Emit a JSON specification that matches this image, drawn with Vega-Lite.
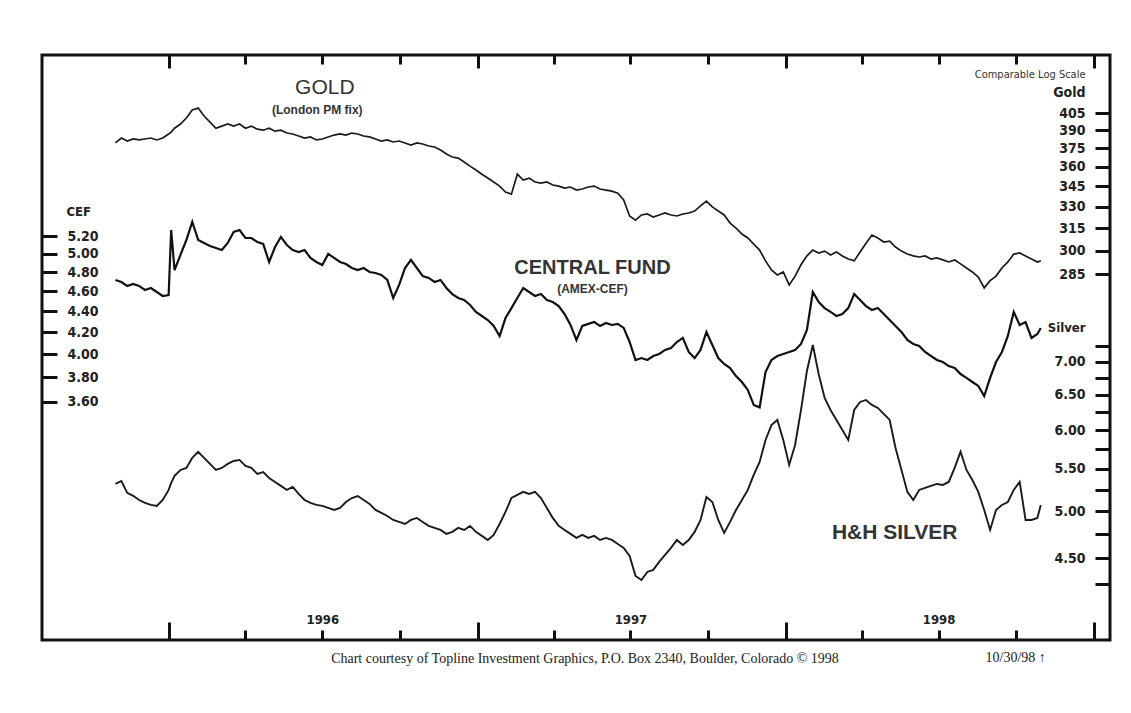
{
  "$schema": "https://vega.github.io/schema/vega-lite/v6.json",
  "width": 1068,
  "height": 585,
  "autosize": {"type": "none"},
  "padding": {"left": 42, "top": 55, "right": 21, "bottom": 73},
  "background": "#ffffff",
  "config": {
    "view": {"stroke": "#111111", "strokeWidth": 3},
    "axis": {"domain": false, "grid": false, "tickColor": "#111111", "tickWidth": 3, "labelColor": "#222222", "labelFont": "Liberation Sans Narrow, Arial Narrow, DejaVu Sans Condensed, sans-serif", "labelFontWeight": "bold", "labelFontSize": 14, "labelOverlap": false, "labelFlush": false}
  },
  "title": {"text": "Chart courtesy of Topline Investment Graphics, P.O. Box 2340, Boulder, Colorado © 1998", "orient": "bottom", "anchor": "middle", "dx": 9, "offset": -13, "font": "Liberation Serif", "fontSize": 14, "fontWeight": "normal", "color": "#222222"},
  "datasets": {
    "prices": [
      {"date": "1995-10-30", "gold": 379.4, "cef": 4.717, "silver": 5.318},
      {"date": "1995-11-06", "gold": 383.5, "cef": 4.696, "silver": 5.354},
      {"date": "1995-11-13", "gold": 381.0, "cef": 4.655, "silver": 5.213},
      {"date": "1995-11-20", "gold": 382.7, "cef": 4.675, "silver": 5.178},
      {"date": "1995-11-27", "gold": 381.9, "cef": 4.655, "silver": 5.130},
      {"date": "1995-12-04", "gold": 382.7, "cef": 4.613, "silver": 5.096},
      {"date": "1995-12-11", "gold": 383.5, "cef": 4.634, "silver": 5.073},
      {"date": "1995-12-18", "gold": 381.9, "cef": 4.593, "silver": 5.062},
      {"date": "1995-12-25", "gold": 383.5, "cef": 4.552, "silver": 5.130},
      {"date": "1996-01-01", "gold": 386.9, "cef": 4.562, "silver": 5.247},
      {"date": "1996-01-04", "gold": 388.5, "cef": 5.269, "silver": 5.330},
      {"date": "1996-01-08", "gold": 391.8, "cef": 4.822, "silver": 5.415},
      {"date": "1996-01-15", "gold": 395.4, "cef": 4.986, "silver": 5.488},
      {"date": "1996-01-22", "gold": 400.6, "cef": 5.154, "silver": 5.513},
      {"date": "1996-01-29", "gold": 407.7, "cef": 5.367, "silver": 5.640},
      {"date": "1996-02-05", "gold": 409.4, "cef": 5.154, "silver": 5.717},
      {"date": "1996-02-12", "gold": 402.4, "cef": 5.120, "silver": 5.640},
      {"date": "1996-02-19", "gold": 397.1, "cef": 5.086, "silver": 5.563},
      {"date": "1996-02-26", "gold": 391.8, "cef": 5.063, "silver": 5.488},
      {"date": "1996-03-04", "gold": 393.6, "cef": 5.041, "silver": 5.513},
      {"date": "1996-03-11", "gold": 395.4, "cef": 5.120, "silver": 5.563},
      {"date": "1996-03-18", "gold": 393.6, "cef": 5.246, "silver": 5.600},
      {"date": "1996-03-25", "gold": 395.4, "cef": 5.269, "silver": 5.613},
      {"date": "1996-04-01", "gold": 391.8, "cef": 5.177, "silver": 5.538},
      {"date": "1996-04-08", "gold": 393.6, "cef": 5.177, "silver": 5.513},
      {"date": "1996-04-15", "gold": 391.0, "cef": 5.131, "silver": 5.439},
      {"date": "1996-04-22", "gold": 390.1, "cef": 5.109, "silver": 5.463},
      {"date": "1996-04-29", "gold": 391.8, "cef": 4.909, "silver": 5.390},
      {"date": "1996-05-06", "gold": 389.3, "cef": 5.074, "silver": 5.342},
      {"date": "1996-05-13", "gold": 390.1, "cef": 5.189, "silver": 5.295},
      {"date": "1996-05-20", "gold": 387.7, "cef": 5.097, "silver": 5.247},
      {"date": "1996-05-27", "gold": 386.9, "cef": 5.041, "silver": 5.282},
      {"date": "1996-06-03", "gold": 385.2, "cef": 5.019, "silver": 5.200},
      {"date": "1996-06-10", "gold": 383.5, "cef": 5.041, "silver": 5.130},
      {"date": "1996-06-17", "gold": 384.4, "cef": 4.953, "silver": 5.096},
      {"date": "1996-06-24", "gold": 381.9, "cef": 4.909, "silver": 5.073},
      {"date": "1996-07-01", "gold": 382.7, "cef": 4.876, "silver": 5.062},
      {"date": "1996-07-08", "gold": 384.4, "cef": 4.997, "silver": 5.039},
      {"date": "1996-07-15", "gold": 386.0, "cef": 4.953, "silver": 5.016},
      {"date": "1996-07-22", "gold": 386.9, "cef": 4.909, "silver": 5.039},
      {"date": "1996-07-29", "gold": 386.0, "cef": 4.887, "silver": 5.107},
      {"date": "1996-08-05", "gold": 387.7, "cef": 4.844, "silver": 5.153},
      {"date": "1996-08-12", "gold": 386.9, "cef": 4.822, "silver": 5.176},
      {"date": "1996-08-19", "gold": 385.2, "cef": 4.844, "silver": 5.130},
      {"date": "1996-08-26", "gold": 384.4, "cef": 4.801, "silver": 5.085},
      {"date": "1996-09-02", "gold": 382.7, "cef": 4.790, "silver": 5.016},
      {"date": "1996-09-09", "gold": 381.0, "cef": 4.769, "silver": 4.983},
      {"date": "1996-09-16", "gold": 381.9, "cef": 4.717, "silver": 4.949},
      {"date": "1996-09-23", "gold": 380.2, "cef": 4.532, "silver": 4.905},
      {"date": "1996-09-30", "gold": 381.0, "cef": 4.665, "silver": 4.883},
      {"date": "1996-10-07", "gold": 379.4, "cef": 4.844, "silver": 4.861},
      {"date": "1996-10-14", "gold": 377.7, "cef": 4.931, "silver": 4.905},
      {"date": "1996-10-21", "gold": 379.4, "cef": 4.844, "silver": 4.927},
      {"date": "1996-10-28", "gold": 378.5, "cef": 4.758, "silver": 4.883},
      {"date": "1996-11-04", "gold": 376.9, "cef": 4.738, "silver": 4.840},
      {"date": "1996-11-11", "gold": 376.1, "cef": 4.696, "silver": 4.818},
      {"date": "1996-11-18", "gold": 373.6, "cef": 4.717, "silver": 4.796},
      {"date": "1996-11-25", "gold": 370.3, "cef": 4.634, "silver": 4.754},
      {"date": "1996-12-02", "gold": 367.9, "cef": 4.572, "silver": 4.775},
      {"date": "1996-12-09", "gold": 367.1, "cef": 4.532, "silver": 4.818},
      {"date": "1996-12-16", "gold": 363.9, "cef": 4.512, "silver": 4.796},
      {"date": "1996-12-23", "gold": 360.7, "cef": 4.462, "silver": 4.840},
      {"date": "1996-12-30", "gold": 357.6, "cef": 4.394, "silver": 4.775},
      {"date": "1997-01-06", "gold": 354.4, "cef": 4.355, "silver": 4.732},
      {"date": "1997-01-13", "gold": 351.4, "cef": 4.316, "silver": 4.689},
      {"date": "1997-01-20", "gold": 348.4, "cef": 4.260, "silver": 4.743},
      {"date": "1997-01-27", "gold": 345.3, "cef": 4.166, "silver": 4.861},
      {"date": "1997-02-03", "gold": 340.8, "cef": 4.335, "silver": 4.994},
      {"date": "1997-02-10", "gold": 339.3, "cef": 4.432, "silver": 5.153},
      {"date": "1997-02-17", "gold": 354.4, "cef": 4.532, "silver": 5.189},
      {"date": "1997-02-24", "gold": 349.9, "cef": 4.634, "silver": 5.224},
      {"date": "1997-03-03", "gold": 351.4, "cef": 4.593, "silver": 5.200},
      {"date": "1997-03-10", "gold": 348.4, "cef": 4.552, "silver": 5.224},
      {"date": "1997-03-17", "gold": 347.6, "cef": 4.572, "silver": 5.153},
      {"date": "1997-03-24", "gold": 348.4, "cef": 4.512, "silver": 5.039},
      {"date": "1997-03-31", "gold": 346.1, "cef": 4.492, "silver": 4.927},
      {"date": "1997-04-07", "gold": 345.3, "cef": 4.452, "silver": 4.840},
      {"date": "1997-04-14", "gold": 343.8, "cef": 4.374, "silver": 4.796},
      {"date": "1997-04-21", "gold": 344.6, "cef": 4.269, "silver": 4.754},
      {"date": "1997-04-28", "gold": 342.3, "cef": 4.129, "silver": 4.711},
      {"date": "1997-05-05", "gold": 343.1, "cef": 4.260, "silver": 4.743},
      {"date": "1997-05-12", "gold": 344.6, "cef": 4.279, "silver": 4.711},
      {"date": "1997-05-19", "gold": 345.3, "cef": 4.297, "silver": 4.732},
      {"date": "1997-05-26", "gold": 343.1, "cef": 4.260, "silver": 4.689},
      {"date": "1997-06-02", "gold": 342.3, "cef": 4.288, "silver": 4.711},
      {"date": "1997-06-09", "gold": 341.5, "cef": 4.269, "silver": 4.689},
      {"date": "1997-06-16", "gold": 340.0, "cef": 4.279, "silver": 4.647},
      {"date": "1997-06-23", "gold": 335.0, "cef": 4.241, "silver": 4.606},
      {"date": "1997-06-30", "gold": 323.5, "cef": 4.111, "silver": 4.523},
      {"date": "1997-07-07", "gold": 320.6, "cef": 3.950, "silver": 4.325},
      {"date": "1997-07-14", "gold": 324.2, "cef": 3.967, "silver": 4.286},
      {"date": "1997-07-21", "gold": 324.9, "cef": 3.950, "silver": 4.364},
      {"date": "1997-07-28", "gold": 322.8, "cef": 3.985, "silver": 4.384},
      {"date": "1997-08-04", "gold": 324.2, "cef": 4.003, "silver": 4.463},
      {"date": "1997-08-11", "gold": 325.6, "cef": 4.039, "silver": 4.534},
      {"date": "1997-08-18", "gold": 324.2, "cef": 4.057, "silver": 4.606},
      {"date": "1997-08-25", "gold": 323.5, "cef": 4.111, "silver": 4.689},
      {"date": "1997-09-01", "gold": 324.9, "cef": 4.148, "silver": 4.637},
      {"date": "1997-09-08", "gold": 325.6, "cef": 4.021, "silver": 4.689},
      {"date": "1997-09-15", "gold": 327.0, "cef": 3.967, "silver": 4.775},
      {"date": "1997-09-22", "gold": 330.7, "cef": 4.039, "silver": 4.905},
      {"date": "1997-09-29", "gold": 334.2, "cef": 4.203, "silver": 5.165},
      {"date": "1997-10-06", "gold": 330.0, "cef": 4.084, "silver": 5.107},
      {"date": "1997-10-13", "gold": 327.0, "cef": 3.967, "silver": 4.905},
      {"date": "1997-10-20", "gold": 324.2, "cef": 3.915, "silver": 4.764},
      {"date": "1997-10-27", "gold": 318.5, "cef": 3.880, "silver": 4.883},
      {"date": "1997-11-03", "gold": 315.0, "cef": 3.812, "silver": 5.016},
      {"date": "1997-11-10", "gold": 311.0, "cef": 3.762, "silver": 5.130},
      {"date": "1997-11-17", "gold": 308.3, "cef": 3.696, "silver": 5.247},
      {"date": "1997-11-24", "gold": 304.2, "cef": 3.575, "silver": 5.427},
      {"date": "1997-12-01", "gold": 300.3, "cef": 3.556, "silver": 5.588},
      {"date": "1997-12-08", "gold": 293.3, "cef": 3.846, "silver": 5.871},
      {"date": "1997-12-15", "gold": 287.5, "cef": 3.950, "silver": 6.071},
      {"date": "1997-12-22", "gold": 284.4, "cef": 3.985, "silver": 6.141},
      {"date": "1997-12-29", "gold": 286.3, "cef": 4.003, "silver": 5.871},
      {"date": "1998-01-05", "gold": 278.3, "cef": 4.021, "silver": 5.551},
      {"date": "1998-01-12", "gold": 283.7, "cef": 4.039, "silver": 5.805},
      {"date": "1998-01-19", "gold": 290.8, "cef": 4.093, "silver": 6.280},
      {"date": "1998-01-26", "gold": 296.5, "cef": 4.222, "silver": 6.855},
      {"date": "1998-02-02", "gold": 300.3, "cef": 4.593, "silver": 7.268},
      {"date": "1998-02-09", "gold": 298.4, "cef": 4.492, "silver": 6.805},
      {"date": "1998-02-16", "gold": 299.6, "cef": 4.432, "silver": 6.452},
      {"date": "1998-02-23", "gold": 297.1, "cef": 4.394, "silver": 6.280},
      {"date": "1998-03-02", "gold": 299.0, "cef": 4.355, "silver": 6.141},
      {"date": "1998-03-09", "gold": 296.5, "cef": 4.374, "silver": 6.004},
      {"date": "1998-03-16", "gold": 294.5, "cef": 4.432, "silver": 5.871},
      {"date": "1998-03-23", "gold": 293.3, "cef": 4.572, "silver": 6.280},
      {"date": "1998-03-30", "gold": 299.0, "cef": 4.512, "silver": 6.394},
      {"date": "1998-04-06", "gold": 304.8, "cef": 4.452, "silver": 6.423},
      {"date": "1998-04-13", "gold": 310.3, "cef": 4.413, "silver": 6.351},
      {"date": "1998-04-20", "gold": 308.3, "cef": 4.432, "silver": 6.309},
      {"date": "1998-04-27", "gold": 305.6, "cef": 4.374, "silver": 6.224},
      {"date": "1998-05-04", "gold": 306.2, "cef": 4.316, "silver": 6.141},
      {"date": "1998-05-11", "gold": 302.3, "cef": 4.260, "silver": 5.766},
      {"date": "1998-05-18", "gold": 299.6, "cef": 4.203, "silver": 5.488},
      {"date": "1998-05-25", "gold": 297.7, "cef": 4.129, "silver": 5.224},
      {"date": "1998-06-01", "gold": 296.5, "cef": 4.093, "silver": 5.130},
      {"date": "1998-06-08", "gold": 295.8, "cef": 4.075, "silver": 5.247},
      {"date": "1998-06-15", "gold": 296.5, "cef": 4.021, "silver": 5.271},
      {"date": "1998-06-22", "gold": 294.5, "cef": 3.985, "silver": 5.295},
      {"date": "1998-06-29", "gold": 295.2, "cef": 3.950, "silver": 5.318},
      {"date": "1998-07-06", "gold": 293.9, "cef": 3.932, "silver": 5.306},
      {"date": "1998-07-13", "gold": 292.6, "cef": 3.897, "silver": 5.342},
      {"date": "1998-07-20", "gold": 293.9, "cef": 3.880, "silver": 5.513},
      {"date": "1998-07-27", "gold": 291.4, "cef": 3.829, "silver": 5.717},
      {"date": "1998-08-03", "gold": 288.8, "cef": 3.796, "silver": 5.488},
      {"date": "1998-08-10", "gold": 286.3, "cef": 3.762, "silver": 5.366},
      {"date": "1998-08-17", "gold": 283.1, "cef": 3.729, "silver": 5.224},
      {"date": "1998-08-24", "gold": 276.5, "cef": 3.647, "silver": 5.016},
      {"date": "1998-08-31", "gold": 280.9, "cef": 3.796, "silver": 4.796},
      {"date": "1998-09-07", "gold": 283.7, "cef": 3.932, "silver": 5.016},
      {"date": "1998-09-14", "gold": 288.8, "cef": 4.021, "silver": 5.073},
      {"date": "1998-09-21", "gold": 292.6, "cef": 4.166, "silver": 5.107},
      {"date": "1998-09-28", "gold": 297.7, "cef": 4.394, "silver": 5.247},
      {"date": "1998-10-05", "gold": 298.4, "cef": 4.269, "silver": 5.342},
      {"date": "1998-10-12", "gold": 296.5, "cef": 4.297, "silver": 4.905},
      {"date": "1998-10-19", "gold": 294.5, "cef": 4.148, "silver": 4.905},
      {"date": "1998-10-26", "gold": 292.6, "cef": 4.185, "silver": 4.927},
      {"date": "1998-10-30", "gold": 293.3, "cef": 4.241, "silver": 5.073}
    ],
    "notes": [
      {"series": "gold", "role": "name", "date": "1996-07-04", "value": 427.7, "text": "GOLD"},
      {"series": "gold", "role": "sub", "date": "1996-06-25", "value": 407.7, "text": "(London PM fix)"},
      {"series": "gold", "role": "scale", "date": "1998-12-22", "value": 440.0, "text": "Comparable Log Scale"},
      {"series": "gold", "role": "axis", "date": "1998-12-22", "value": 423.1, "text": "Gold"},
      {"series": "cef", "role": "name", "date": "1997-05-17", "value": 4.844, "text": "CENTRAL FUND"},
      {"series": "cef", "role": "sub", "date": "1997-05-17", "value": 4.624, "text": "(AMEX-CEF)"},
      {"series": "cef", "role": "axis", "date": "1995-09-02", "value": 5.484, "text": "CEF"},
      {"series": "silver", "role": "name", "date": "1998-05-10", "value": 4.763, "text": "H&H SILVER"},
      {"series": "silver", "role": "axis", "date": "1998-12-22", "value": 7.551, "text": "Silver"},
      {"series": "silver", "role": "end", "date": "1998-11-05", "value": 3.597, "text": "10/30/98 ↑"}
    ]
  },
  "layer": [
    {
      "encoding": {
        "x": {"field": "date", "type": "temporal", "scale": {"type": "utc", "domain": [{"year": 1995, "month": 8, "date": 4, "utc": true}, {"year": 1999, "month": 1, "date": 20, "utc": true}]},
          "axis": {"orient": "bottom", "title": null,
            "values": [{"year": 1996, "month": 1, "date": 1, "utc": true}, {"year": 1996, "month": 4, "date": 1, "utc": true}, {"year": 1996, "month": 7, "date": 1, "utc": true}, {"year": 1996, "month": 10, "date": 1, "utc": true}, {"year": 1997, "month": 1, "date": 1, "utc": true}, {"year": 1997, "month": 4, "date": 1, "utc": true}, {"year": 1997, "month": 7, "date": 1, "utc": true}, {"year": 1997, "month": 10, "date": 1, "utc": true}, {"year": 1998, "month": 1, "date": 1, "utc": true}, {"year": 1998, "month": 4, "date": 1, "utc": true}, {"year": 1998, "month": 7, "date": 1, "utc": true}, {"year": 1998, "month": 10, "date": 1, "utc": true}, {"year": 1999, "month": 1, "date": 1, "utc": true}],
            "tickSize": {"condition": {"test": "utcmonth(datum.value) === 0", "value": -18}, "value": -10},
            "labelExpr": "utcmonth(datum.value) === 6 ? utcFormat(datum.value, '%Y') : ''",
            "labelPadding": -11, "labelBaseline": "middle", "labelAlign": "center", "labelFontSize": 13}},
        "y": {"field": "value", "type": "quantitative", "scale": {"type": "log", "domain": [128.2, 459.7]},
          "axis": {"orient": "right", "title": null, "values": [285, 300, 315, 330, 345, 360, 375, 390, 405], "format": "d", "tickSize": -15, "labelAlign": "right", "labelPadding": -10}}
      },
      "layer": [
        {"data": {"name": "prices"}, "transform": [{"fold": ["gold"], "as": ["key", "value"]}], "mark": {"type": "line", "color": "#1a1a1a", "strokeWidth": 1.7}},
        {"data": {"name": "notes"}, "transform": [{"filter": "datum.series === 'gold' && datum.role === 'name'"}], "mark": {"type": "text", "font": "Liberation Sans", "fontSize": 21, "color": "#333333", "baseline": "middle", "align": "center"}, "encoding": {"text": {"field": "text"}}},
        {"data": {"name": "notes"}, "transform": [{"filter": "datum.series === 'gold' && datum.role === 'sub'"}], "mark": {"type": "text", "font": "Liberation Sans", "fontSize": 12, "fontWeight": "bold", "color": "#333333", "baseline": "middle", "align": "center"}, "encoding": {"text": {"field": "text"}}},
        {"data": {"name": "notes"}, "transform": [{"filter": "datum.series === 'gold' && datum.role === 'scale'"}], "mark": {"type": "text", "font": "Liberation Sans Narrow, DejaVu Sans Condensed, sans-serif", "fontSize": 11, "color": "#333333", "baseline": "middle", "align": "right"}, "encoding": {"text": {"field": "text"}}},
        {"data": {"name": "notes"}, "transform": [{"filter": "datum.series === 'gold' && datum.role === 'axis'"}], "mark": {"type": "text", "font": "Liberation Sans Narrow, DejaVu Sans Condensed, sans-serif", "fontSize": 14, "fontWeight": "bold", "color": "#222222", "baseline": "middle", "align": "right"}, "encoding": {"text": {"field": "text"}}}
      ]
    },
    {
      "encoding": {
        "x": {"field": "date", "type": "temporal", "scale": {"type": "utc", "domain": [{"year": 1995, "month": 8, "date": 4, "utc": true}, {"year": 1999, "month": 1, "date": 20, "utc": true}]},
          "axis": {"orient": "top", "title": null,
            "values": [{"year": 1996, "month": 1, "date": 1, "utc": true}, {"year": 1996, "month": 4, "date": 1, "utc": true}, {"year": 1996, "month": 7, "date": 1, "utc": true}, {"year": 1996, "month": 10, "date": 1, "utc": true}, {"year": 1997, "month": 1, "date": 1, "utc": true}, {"year": 1997, "month": 4, "date": 1, "utc": true}, {"year": 1997, "month": 7, "date": 1, "utc": true}, {"year": 1997, "month": 10, "date": 1, "utc": true}, {"year": 1998, "month": 1, "date": 1, "utc": true}, {"year": 1998, "month": 4, "date": 1, "utc": true}, {"year": 1998, "month": 7, "date": 1, "utc": true}, {"year": 1998, "month": 10, "date": 1, "utc": true}, {"year": 1999, "month": 1, "date": 1, "utc": true}],
            "tickSize": {"condition": {"test": "utcmonth(datum.value) === 0", "value": -13}, "value": -9},
            "labels": false}},
        "y": {"field": "value", "type": "quantitative", "scale": {"type": "log", "domain": [2.123, 7.768]},
          "axis": {"orient": "left", "title": null, "values": [3.6, 3.8, 4.0, 4.2, 4.4, 4.6, 4.8, 5.0, 5.2], "format": ".2f", "tickSize": -15, "labelAlign": "left", "labelPadding": -10}}
      },
      "layer": [
        {"data": {"name": "prices"}, "transform": [{"fold": ["cef"], "as": ["key", "value"]}], "mark": {"type": "line", "color": "#111111", "strokeWidth": 2.2}},
        {"data": {"name": "notes"}, "transform": [{"filter": "datum.series === 'cef' && datum.role === 'name'"}], "mark": {"type": "text", "font": "Liberation Sans", "fontSize": 20, "fontWeight": "bold", "color": "#333333", "baseline": "middle", "align": "center"}, "encoding": {"text": {"field": "text"}}},
        {"data": {"name": "notes"}, "transform": [{"filter": "datum.series === 'cef' && datum.role === 'sub'"}], "mark": {"type": "text", "font": "Liberation Sans", "fontSize": 12, "fontWeight": "bold", "color": "#333333", "baseline": "middle", "align": "center"}, "encoding": {"text": {"field": "text"}}},
        {"data": {"name": "notes"}, "transform": [{"filter": "datum.series === 'cef' && datum.role === 'axis'"}], "mark": {"type": "text", "font": "Liberation Sans Narrow, DejaVu Sans Condensed, sans-serif", "fontSize": 13, "fontWeight": "bold", "color": "#222222", "baseline": "middle", "align": "left"}, "encoding": {"text": {"field": "text"}}}
      ]
    },
    {
      "encoding": {
        "x": {"field": "date", "type": "temporal", "scale": {"type": "utc", "domain": [{"year": 1995, "month": 8, "date": 4, "utc": true}, {"year": 1999, "month": 1, "date": 20, "utc": true}]}, "axis": null},
        "y": {"field": "value", "type": "quantitative", "scale": {"type": "log", "domain": [3.745, 13.945]},
          "axis": {"orient": "right", "title": null, "values": [4.25, 4.5, 4.75, 5.0, 5.25, 5.5, 5.75, 6.0, 6.25, 6.5, 6.75, 7.0, 7.25], "labelExpr": "datum.value % 0.5 === 0 ? format(datum.value, '.2f') : ''", "tickSize": -15, "labelAlign": "right", "labelPadding": -10}}
      },
      "layer": [
        {"data": {"name": "prices"}, "transform": [{"fold": ["silver"], "as": ["key", "value"]}], "mark": {"type": "line", "color": "#1a1a1a", "strokeWidth": 1.9}},
        {"data": {"name": "notes"}, "transform": [{"filter": "datum.series === 'silver' && datum.role === 'name'"}], "mark": {"type": "text", "font": "Liberation Sans", "fontSize": 21, "fontWeight": "bold", "color": "#333333", "baseline": "middle", "align": "center"}, "encoding": {"text": {"field": "text"}}},
        {"data": {"name": "notes"}, "transform": [{"filter": "datum.series === 'silver' && datum.role === 'axis'"}], "mark": {"type": "text", "font": "Liberation Sans Narrow, DejaVu Sans Condensed, sans-serif", "fontSize": 13, "fontWeight": "bold", "color": "#222222", "baseline": "middle", "align": "right"}, "encoding": {"text": {"field": "text"}}},
        {"data": {"name": "notes"}, "transform": [{"filter": "datum.series === 'silver' && datum.role === 'end'"}], "mark": {"type": "text", "font": "Liberation Serif", "fontSize": 14, "color": "#222222", "baseline": "middle", "align": "right"}, "encoding": {"text": {"field": "text"}}}
      ]
    }
  ],
  "resolve": {"scale": {"y": "independent"}, "axis": {"x": "independent", "y": "independent"}}
}
